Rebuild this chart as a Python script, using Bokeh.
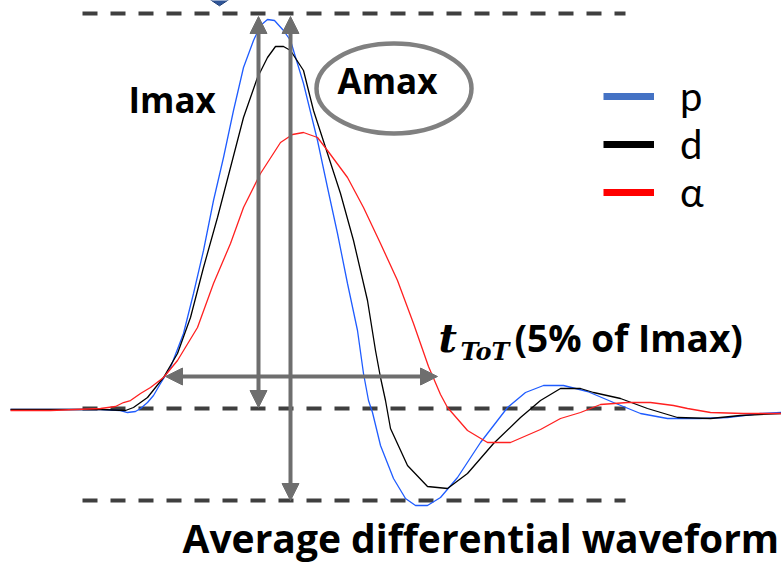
import math
from bokeh.plotting import figure
from bokeh.models import Range1d, Label, Arrow, NormalHead, Legend, LegendItem
from bokeh.embed import file_html
from bokeh.resources import INLINE

# ---------------- data (time in ns, amplitude baseline-subtracted, a.u.) ----------------
series_names = ["p", "d", "α"]
series_colors = ["#1f5cff", "#000000", "#ff2020"]
legend_colors = ["#4472c4", "#000000", "#ff0000"]

t_p = [1.0, 6.0, 10.0, 12.0, 12.7, 13.5, 14.0, 14.7, 15.3, 16.0, 17.0, 18.3, 19.3, 20.3,
       21.3, 22.3, 23.3, 24.3, 25.3, 26.0, 26.7, 27.4, 28.3, 29.0, 30.3, 31.7, 32.7, 33.7,
       34.7, 35.7, 36.3, 36.8, 37.2, 38.0, 39.3, 40.5, 41.5, 42.7, 44.0, 45.7, 48.0, 50.7,
       52.5, 54.3, 56.3, 58.7, 61.3, 64.0, 66.7, 70.0, 72.7, 76.0, 78.1]
a_p = [-1, -1, -1, -2, -4, -3, 0, 6, 13, 25, 41, 75, 115, 158,
       208, 251, 298, 341, 368, 383, 389, 388, 378, 368, 325, 268, 221, 175,
       125, 78, 35, 8, -4, -37, -70, -90, -97, -97, -89, -69, -34, 1,
       16, 23, 23, 17, 6, -5, -10, -10, -9, -5, -4]

t_d = [1.0, 6.0, 10.0, 12.5, 13.3, 14.7, 16.3, 17.7, 19.0, 20.3, 21.7, 23.0, 24.3, 25.7,
       26.7, 27.5, 28.3, 29.0, 30.3, 31.3, 32.7, 34.0, 35.3, 36.7, 37.5, 38.0, 38.5, 39.0,
       40.7, 42.7, 44.7, 46.7, 49.3, 52.0, 54.0, 56.0, 58.0, 59.3, 62.0, 64.7, 67.7, 71.0,
       74.0, 78.1]
a_d = [-1, -1, -1, -2, 1, 11, 31, 55, 91, 141, 191, 241, 291, 331,
       351, 362, 362, 358, 338, 298, 255, 215, 168, 108, 58, 31, 8, -20,
       -57, -78, -80, -65, -35, -9, 8, 20, 20, 16, 10, 0, -9, -10,
       -7, -5]

t_a = [1.0, 5.0, 10.0, 11.5, 12.3, 13.0, 14.0, 15.0, 16.3, 17.7, 19.7, 21.3, 23.0, 24.3,
       26.0, 28.0, 29.2, 30.3, 31.7, 32.7, 34.7, 36.3, 38.0, 39.7, 41.3, 42.8, 44.0, 44.7,
       46.7, 48.7, 51.0, 54.0, 56.0, 58.0, 60.0, 62.7, 65.0, 67.3, 68.7, 71.0, 74.3, 78.1]
a_a = [-2, -2, 0, 2, 6, 8, 15, 21, 31, 48, 81, 125, 165, 201,
       235, 266, 274, 276, 271, 258, 231, 201, 165, 128, 85, 42, 14, 1,
       -22, -34, -34, -21, -10, -4, 4, 6, 6, 3, 0, -4, -5, -5]

# reference levels and annotation readings
levels = [395, 0, -92]            # Imax level, baseline, minimum level
level_t = [8.2, 62.5]             # extent of the dashed guide lines
imax_arrow_t = 25.8
amax_arrow_t = 29.0
arrow_top = 392
tot_level = 32
tot_t = [16.5, 43.7]
ellipse_c = (39.35, 320)
ellipse_wh = (15.5, 90)
marker_t, marker_a = 21.9, 412

W, H = 781, 565
p = figure(width=W, height=H, output_backend="svg", toolbar_location=None,
           x_range=Range1d(0, 78.1), y_range=Range1d(-157, 408),
           min_border=0, outline_line_color=None, background_fill_color="white")
p.xaxis.visible = False
p.yaxis.visible = False
p.grid.visible = False

# dashed guide lines
for lv in levels:
    p.line(level_t, [lv, lv], line_color="#3f3f3f", line_width=4, line_dash="15 13")

# waveforms
for tt, aa, col in zip([t_p, t_d, t_a], [a_p, a_d, a_a], series_colors):
    p.line(tt, aa, line_color=col, line_width=1.3)

# small diamond at the top (clipped by the frame)
p.scatter([marker_t], [marker_a], marker="diamond", size=28, angle=math.pi / 2,
          fill_color="#2f5597", line_color="#1f3f77")

# arrows
gray = "#6e6e6e"
def head():
    return NormalHead(size=17, fill_color=gray, line_color=gray, line_width=1)

p.add_layout(Arrow(start=head(), end=head(), x_start=imax_arrow_t, y_start=levels[1] + 1,
                   x_end=imax_arrow_t, y_end=arrow_top, line_color=gray, line_width=4))
p.add_layout(Arrow(start=head(), end=head(), x_start=amax_arrow_t, y_start=levels[2],
                   x_end=amax_arrow_t, y_end=arrow_top, line_color=gray, line_width=4))
p.add_layout(Arrow(start=head(), end=head(), x_start=tot_t[0], y_start=tot_level,
                   x_end=tot_t[1], y_end=tot_level, line_color=gray, line_width=4))

# ellipse around Amax
p.ellipse(x=[ellipse_c[0]], y=[ellipse_c[1]], width=ellipse_wh[0], height=ellipse_wh[1],
          fill_color=None, line_color="#808080", line_width=4.5)

bold = dict(text_font="Open Sans", text_font_style="bold", text_color="black",
            text_baseline="alphabetic")
p.add_layout(Label(x=12.8, y=309, text="Imax", text_font_size="35px", **bold))
p.add_layout(Label(x=33.7, y=328, text="Amax", text_font_size="35px", **bold))
p.add_layout(Label(x=43.8, y=71, text="t", text_font="DejaVu Serif",
                   text_font_style="bold italic", text_font_size="40px",
                   text_color="black", text_baseline="alphabetic"))
p.add_layout(Label(x=46.0, y=57, text="ToT", text_font="DejaVu Serif",
                   text_font_style="bold italic", text_font_size="24px",
                   text_color="black", text_baseline="alphabetic"))
p.add_layout(Label(x=51.4, y=71, text="(5% of Imax)", text_font_size="37px", **bold))
p.add_layout(Label(x=18.2, y=-129, text="Average differential waveform",
                   text_font_size="39px", **bold))

# legend with thick swatches (proxy lines lie outside the visible range)
proxies = [p.line([-100, -99], [0, 0], line_color=c, line_width=7) for c in legend_colors]
legend = Legend(items=[LegendItem(label=n, renderers=[r]) for n, r in zip(series_names, proxies)],
                location=(603, H - 216), orientation="vertical",
                glyph_width=51, glyph_height=40, label_height=40, label_standoff=26,
                label_text_font="Lato", label_text_font_size="40px",
                label_text_color="black", spacing=0,
                padding=0, margin=0, border_line_color=None, background_fill_alpha=0)
p.add_layout(legend)

open("out.html", "w").write(file_html(p, INLINE))
